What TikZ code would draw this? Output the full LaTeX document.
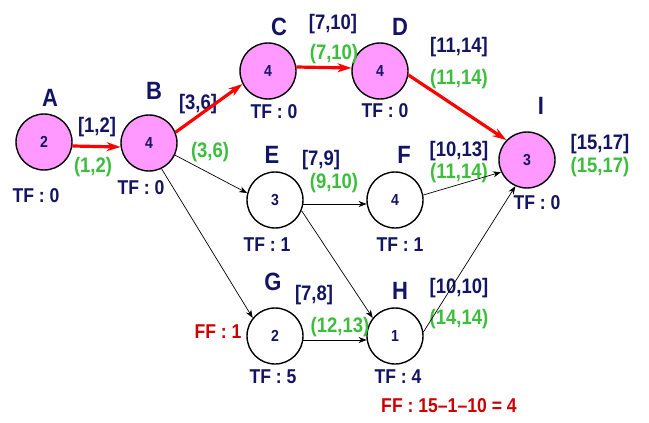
\documentclass[tikz,border=0pt]{standalone}
\usepackage{fontspec}
\setmainfont{Liberation Sans}
\newfontfamily\narrowsans{Liberation Sans}[FakeStretch=0.88,Ligatures=TeX]
\usetikzlibrary{arrows.meta}
\definecolor{navytext}{RGB}{20,20,100}
\definecolor{greentext}{RGB}{60,190,60}
\definecolor{redtext}{RGB}{204,0,0}
\definecolor{pinkfill}{RGB}{255,153,255}
\begin{document}
\begin{tikzpicture}[x=1pt,y=-1pt,
		event/.style={circle,draw=black,line width=1.4pt,fill=white,minimum size=56pt,inner sep=0pt,text=navytext,font=\narrowsans\bfseries\fontsize{16}{16}\selectfont},
		critevent/.style={event,fill=pinkfill},
		eventname/.style={inner sep=0pt,text=navytext,font=\narrowsans\bfseries\fontsize{25}{25}\selectfont},
		earliest/.style={inner sep=0pt,text=navytext,font=\narrowsans\bfseries\fontsize{21}{21}\selectfont},
		latest/.style={inner sep=0pt,text=greentext,font=\narrowsans\bfseries\fontsize{21}{21}\selectfont},
		totalfloat/.style={inner sep=0pt,text=navytext,font=\narrowsans\bfseries\fontsize{20}{20}\selectfont},
		freefloat/.style={inner sep=0pt,text=redtext,font=\narrowsans\bfseries\fontsize{20}{20}\selectfont},
		critpath/.style={draw=red,line width=3.2pt,-{Stealth[length=14pt,width=9pt]}},
		activity/.style={draw=black,line width=0.7pt,-{Stealth[length=8pt,width=6pt,inset=2.5pt]}}]
			\useasboundingbox (0,0) rectangle (649,423);
			\node[critevent] (A) at (44,142) {2};
			\node[critevent] (B) at (149,143) {4};
			\node[critevent] (C) at (268,71) {4};
			\node[critevent] (D) at (380,71) {4};
			\node[critevent] (I) at (527,160) {3};
			\node[event] (E) at (275,200) {3};
			\node[event] (F) at (395,200) {4};
			\node[event] (G) at (275,336) {2};
			\node[event] (H) at (395,336) {1};

			\node[eventname] (nameA) at (50,98) {A};
			\node[eventname] (nameB) at (154,91) {B};
			\node[eventname] (nameC) at (279,27) {C};
			\node[eventname] (nameD) at (400,27) {D};
			\node[eventname] (nameE) at (272,155) {E};
			\node[eventname] (nameF) at (404,155) {F};
			\node[eventname] (nameG) at (273,282) {G};
			\node[eventname] (nameH) at (400,291) {H};
			\node[eventname] (nameI) at (541,106) {I};

			\node[totalfloat] (tfA) at (36,196) {TF : 0};
			\node[totalfloat] (tfB) at (141,188) {TF : 0};
			\node[totalfloat] (tfC) at (274,112) {TF : 0};
			\node[totalfloat] (tfD) at (385,111) {TF : 0};
			\node[totalfloat] (tfE) at (267,245) {TF : 1};
			\node[totalfloat] (tfF) at (400,245) {TF : 1};
			\node[totalfloat] (tfG) at (273,377) {TF : 5};
			\node[totalfloat] (tfH) at (398,377) {TF : 4};
			\node[totalfloat] (tfI) at (537,203) {TF : 0};
			\node[freefloat] (ffG) at (218,332) {FF : 1};
			\node[freefloat] (ffH) at (449,406) {FF : 15–1–10 = 4};

			\node[earliest] (esAB) at (97,127) {[1,2]};
			\node[latest] (lsAB) at (93,167) {(1,2)};
			\node[earliest] (esBC) at (198,104) {[3,6]};
			\node[latest] (lsBC) at (210,152) {(3,6)};
			\node[earliest] (esCD) at (333,24) {[7,10]};
			\node[latest] (lsCD) at (334,54) {(7,10)};
			\node[earliest] (esDI) at (459,47) {[11,14]};
			\node[latest] (lsDI) at (459,79) {(11,14)};
			\node[earliest] (esEF) at (321,160) {[7,9]};
			\node[latest] (lsEF) at (334,183) {(9,10)};
			\node[earliest] (esFI) at (459,151) {[10,13]};
			\node[latest] (lsFI) at (459,173) {(11,14)};
			\node[earliest] (esGH) at (314,295) {[7,8]};
			\node[latest] (lsGH) at (340,327) {(12,13)};
			\node[earliest] (esHI) at (459,288) {[10,10]};
			\node[latest] (lsHI) at (459,319) {(14,14)};
			\node[earliest] (esI) at (600,144) {[15,17]};
			\node[latest] (lsI) at (600,167) {(15,17)};

			\draw[critpath] (A.-8) -- (B.188);
			\draw[critpath] (B.22) -- (C.207);
			\draw[critpath] (C.8) -- (D.174);
			\draw[critpath] (D.-8) -- (I.136);
			\draw[activity] (B.-25) -- (E.166);
			\draw[activity] (B.-64) -- (G.141);
			\draw[activity] (E.-8) -- (F.188);
			\draw[activity] (E.-22) -- (H.141);
			\draw[activity] (G.-8) -- (H.188);
			\draw[activity] (F.10) -- (I.205);
			\draw[activity] (H.8) -- (I.246);
		\end{tikzpicture}
\end{document}
